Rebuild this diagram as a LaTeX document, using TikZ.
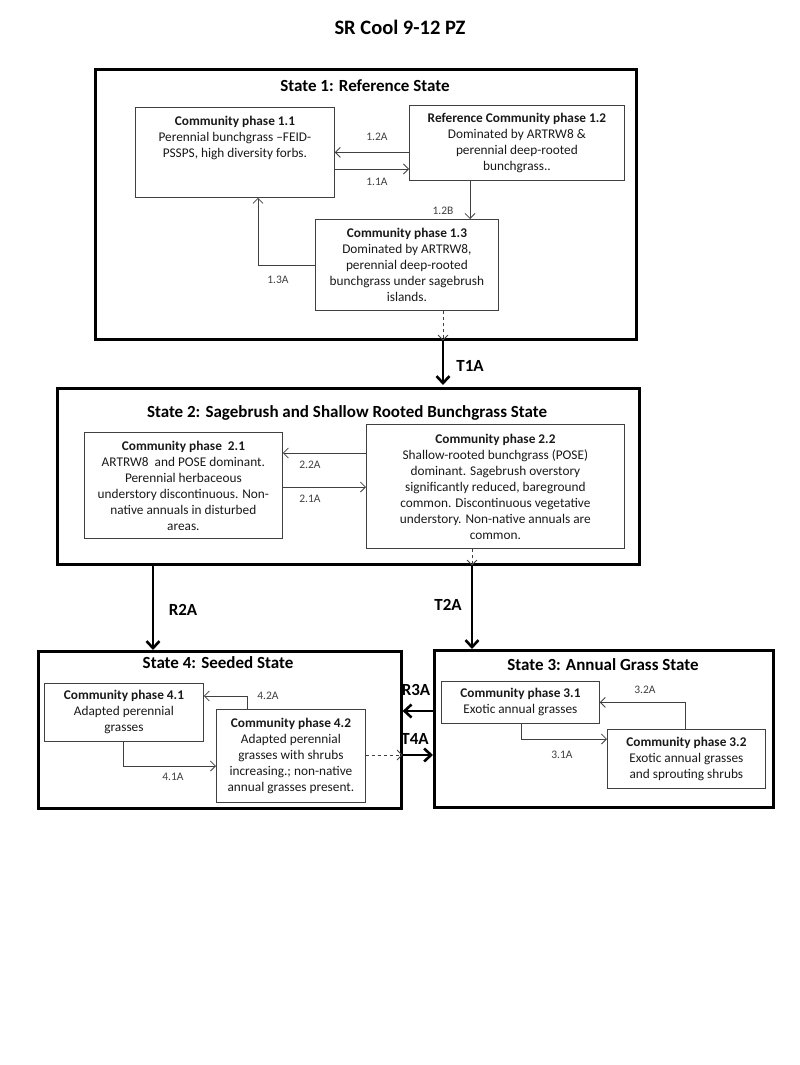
\documentclass[tikz,border=0pt]{standalone}
\usepackage{fontspec}
\setmainfont{Carlito}
\usetikzlibrary{arrows.meta}

\begin{document}
\begin{tikzpicture}[
  x=1pt, y=-1pt,
  font=\fontsize{13.3}{16}\selectfont,
  statebox/.style={draw, line width=2.6pt, inner sep=0pt, anchor=north west},
  statetitle/.style={font=\fontsize{17}{20}\selectfont\bfseries},
  phase/.style={draw=black!75, line width=0.8pt, anchor=north west, align=center, inner sep=2pt, text=black!90},
  arrow/.style={draw=black!75, line width=0.8pt, -{Straight Barb[length=5pt,width=10pt]}},
  back/.style={arrow, dashed},
  move/.style={line width=2.6pt, -{Straight Barb[length=7pt,width=13pt]}},
  steplabel/.style={font=\fontsize{11.5}{13}\selectfont, text=black!75},
  movelabel/.style={font=\fontsize{17}{20}\selectfont\bfseries}
]
\useasboundingbox (0,0) rectangle (800,1065);

\node[font=\fontsize{20.5}{24}\selectfont\bfseries] (title) at (400,27) {SR Cool 9-12 PZ};

% State 1
\node[statebox, minimum width=541, minimum height=270] (s1) at (94,68) {};
\node[statetitle] (s1title) at (365,86) {State 1: Reference State};
\node[phase, minimum width=199, minimum height=90] (cp11) at (135,107) {};
\node[align=center, anchor=north, inner sep=0pt, text=black!90] (cp11text) at ([yshift=-9pt]cp11.north)
  {\textbf{Community phase 1.1}\\Perennial bunchgrass –FEID-\\PSSPS, high diversity forbs.};
\node[phase, minimum width=215, minimum height=75] (cp12) at (409,105)
  {\textbf{Reference Community phase 1.2}\\Dominated by ARTRW8 \&\\perennial deep-rooted\\bunchgrass..};
\node[phase, minimum width=183, minimum height=91] (cp13) at (315,219)
  {\textbf{Community phase 1.3}\\Dominated by ARTRW8,\\perennial deep-rooted\\bunchgrass under sagebrush\\islands.};

\coordinate (a11) at (0,169);
\coordinate (b12) at (470,0);
\coordinate (c13) at (258,0);
\coordinate (t1) at (443,0);
\draw[arrow] (cp11.east -| cp12.west) -- (cp11.east);
\draw[arrow] (a11 -| cp11.east) -- (a11 -| cp12.west);
\draw[arrow] (b12 |- cp12.south) -- (b12 |- cp13.north);
\draw[arrow] (cp13.west) -| (c13 |- cp11.south);
\draw[back] (t1 |- cp13.south) -- (t1 |- s1.south);
\node[steplabel] (l12a) at (377,137) {1.2A};
\node[steplabel] (l11a) at (377,182) {1.1A};
\node[steplabel] (l12b) at (443,211) {1.2B};
\node[steplabel] (l13a) at (278,280) {1.3A};

% T1A
\draw[move] (t1 |- s1.south) -- (t1 |- 0,385);
\node[movelabel] (lt1a) at (470,366) {T1A};

% State 2
\node[statebox, minimum width=582, minimum height=176] (s2) at (56,387) {};
\node[statetitle] (s2title) at (347,413) {State 2: Sagebrush and Shallow Rooted Bunchgrass State};
\node[phase, minimum width=198, minimum height=106] (cp21) at (84,432)
  {\textbf{Community phase\ \ 2.1}\\ARTRW8\ \ and POSE dominant.\\Perennial herbaceous\\understory discontinuous. Non-\\native annuals in disturbed\\areas.};
\node[phase, minimum width=258, minimum height=124] (cp22) at (366,424)
  {\textbf{Community phase 2.2}\\Shallow-rooted bunchgrass (POSE)\\dominant. Sagebrush overstory\\significantly reduced, bareground\\common. Discontinuous vegetative\\understory. Non-native annuals are\\common.};

\coordinate (a22) at (0,453);
\coordinate (a21) at (0,487);
\coordinate (t2) at (472,0);
\coordinate (r2) at (153,0);
\draw[arrow] (a22 -| cp22.west) -- (a22 -| cp21.east);
\draw[arrow] (a21 -| cp21.east) -- (a21 -| cp22.west);
\draw[back] (t2 |- cp22.south) -- (t2 |- s2.south);
\node[steplabel] (l22a) at (310,465) {2.2A};
\node[steplabel] (l21a) at (310,499) {2.1A};

% State 4
\node[statebox, minimum width=363, minimum height=157] (s4) at (37,650) {};
\node[statetitle] (s4title) at (218,663) {State 4: Seeded State};
\node[phase, minimum width=159, minimum height=58] (cp41) at (44,683)
  {\textbf{Community phase 4.1}\\Adapted perennial\\grasses};
\node[phase, minimum width=149, minimum height=93] (cp42) at (216,709)
  {\textbf{Community phase 4.2}\\Adapted perennial\\grasses with shrubs\\increasing.; non-native\\annual grasses present.};

% State 3
\node[statebox, minimum width=339, minimum height=157] (s3) at (433,649) {};
\node[statetitle] (s3title) at (603,665) {State 3: Annual Grass State};
\node[phase, minimum width=158, minimum height=42] (cp31) at (441,681)
  {\textbf{Community phase 3.1}\\Exotic annual grasses};
\node[phase, minimum width=158, minimum height=59] (cp32) at (607,729)
  {\textbf{Community phase 3.2}\\Exotic annual grasses\\and sprouting shrubs};

% R2A and T2A
\draw[move] (r2 |- s2.south) -- (r2 |- s4.north);
\draw[move] (t2 |- s2.south) -- (t2 |- s3.north);
\node[movelabel] (lr2a) at (183,610) {R2A};
\node[movelabel] (lt2a) at (448,605) {T2A};

% inside State 4
\coordinate (c42) at (247,696);
\coordinate (c41) at (123,766);
\coordinate (t4) at (0,755);
\coordinate (r3) at (0,711);
\draw[arrow] (c42 |- cp42.north) -- (c42) -- (c42 -| cp41.east);
\draw[arrow] (c41 |- cp41.south) -- (c41) -- (c41 -| cp42.west);
\draw[back] (t4 -| cp42.east) -- (t4 -| s4.east);
\node[steplabel] (l42a) at (268,696) {4.2A};
\node[steplabel] (l41a) at (173,777) {4.1A};

% inside State 3
\coordinate (c32) at (685,0);
\coordinate (c31) at (521,739);
\draw[arrow] (c32 |- cp32.north) |- (cp31.east);
\draw[arrow] (c31 |- cp31.south) -- (c31) -- (c31 -| cp32.west);
\node[steplabel] (l32a) at (645,690) {3.2A};
\node[steplabel] (l31a) at (562,755) {3.1A};

% R3A and T4A
\draw[move] (r3 -| s3.west) -- (r3 -| s4.east);
\draw[move] (t4 -| s4.east) -- (t4 -| s3.west);
\node[movelabel] (lr3a) at (416,690) {R3A};
\node[movelabel] (lt4a) at (415,739) {T4A};

\end{tikzpicture}
\end{document}
